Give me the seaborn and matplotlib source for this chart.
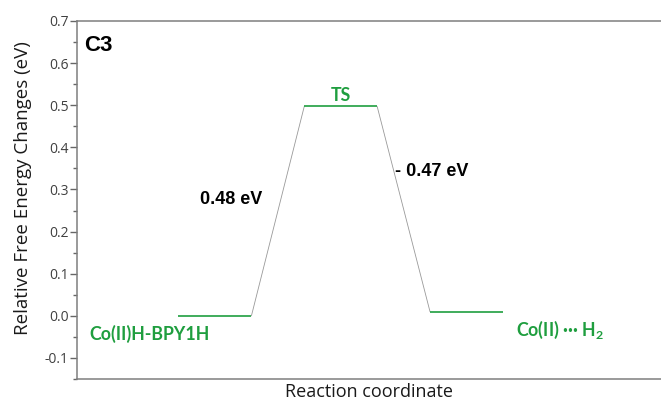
import numpy as np
import pandas as pd
import matplotlib
matplotlib.use("Agg")
import matplotlib.pyplot as plt
import seaborn as sns

# data
states = ["Co(II)H-BPY1H", "TS", r"Co(II) ··· H$_{\mathregular{2}}$"]
energies = [0.0, 0.497, 0.01]
barriers = ["0.48 eV", "- 0.47 eV"]
yticks = [-0.1, 0.0, 0.1, 0.2, 0.3, 0.4, 0.5, 0.6, 0.7]

green = "#1f9e3f"
half = 0.29

sns.set_theme(style="white")
plt.rcParams["font.family"] = ["Open Sans", "DejaVu Sans"]

df = pd.DataFrame({"state": states, "energy": energies})
df["pos"] = np.arange(len(df)) + 1.0

fig = plt.figure(figsize=(6.61, 4.03), dpi=100)
ax = fig.add_axes([0.1165, 0.0596, 0.8835, 0.8883])

# energy levels
ax.hlines(df["energy"], df["pos"] - half, df["pos"] + half, color=green, lw=1.2, zorder=3)

# connectors between levels
for i in range(len(df) - 1):
    x0 = df["pos"][i] + half
    x1 = df["pos"][i + 1] - half
    ax.plot([x0, x1], [df["energy"][i], df["energy"][i + 1]], color="#999999", lw=0.6, zorder=2)

# state labels
lab = dict(color=green, fontsize=12.8, fontweight="bold", family=["Lato", "DejaVu Sans"], va="baseline")
ax.text(df["pos"][0] - 1.0, df["energy"][0] - 0.057, states[0], ha="left", **lab)
ax.text(df["pos"][1], df["energy"][1] + 0.014, states[1], ha="center", **lab)
ax.text(df["pos"][2] + 0.39, df["energy"][2] - 0.057, states[2], ha="left", **lab)

# barrier labels
mid1 = (df["energy"][0] + df["energy"][1]) / 2
mid2 = (df["energy"][1] + df["energy"][2]) / 2
ax.text(1.38, mid1 + 0.028, barriers[0], fontsize=13, fontweight="bold",
        family=["Liberation Sans"], ha="right", va="center", color="black")
ax.text(2.43, mid2 + 0.09, barriers[1], fontsize=13, fontweight="bold",
        family=["Liberation Sans"], ha="left", va="center", color="black")

ax.text(0.013, 0.962, "C3", transform=ax.transAxes, fontsize=16, fontweight="bold",
        family=["Liberation Sans"], ha="left", va="top", color="black")

ax.set_xlim(-0.097, 4.547)
ax.set_ylim(-0.15, 0.7)
ax.set_yticks(yticks)
ax.set_yticklabels([f"{t:.1f}" for t in yticks])
ax.set_yticks(np.arange(-0.15, 0.7, 0.1), minor=True)
ax.set_xticks([])

ax.tick_params(axis="y", which="major", direction="out", length=5, width=1, color="#666666",
               labelsize=10, labelcolor="#404040", pad=1, left=True)
ax.tick_params(axis="y", which="minor", direction="out", length=3, width=1, color="#666666", left=True)

for s in ["left", "top", "bottom"]:
    ax.spines[s].set_color("#7f7f7f")
    ax.spines[s].set_linewidth(1.1)
ax.spines["right"].set_visible(False)

ax.set_ylabel("Relative Free Energy Changes (eV)", fontsize=13.5, color="#1a1a1a")
ax.yaxis.set_label_coords(-0.077, 0.534)
ax.set_xlabel("Reaction coordinate", fontsize=13, color="#1a1a1a", labelpad=3)

fig.savefig("out.png", dpi=100)
